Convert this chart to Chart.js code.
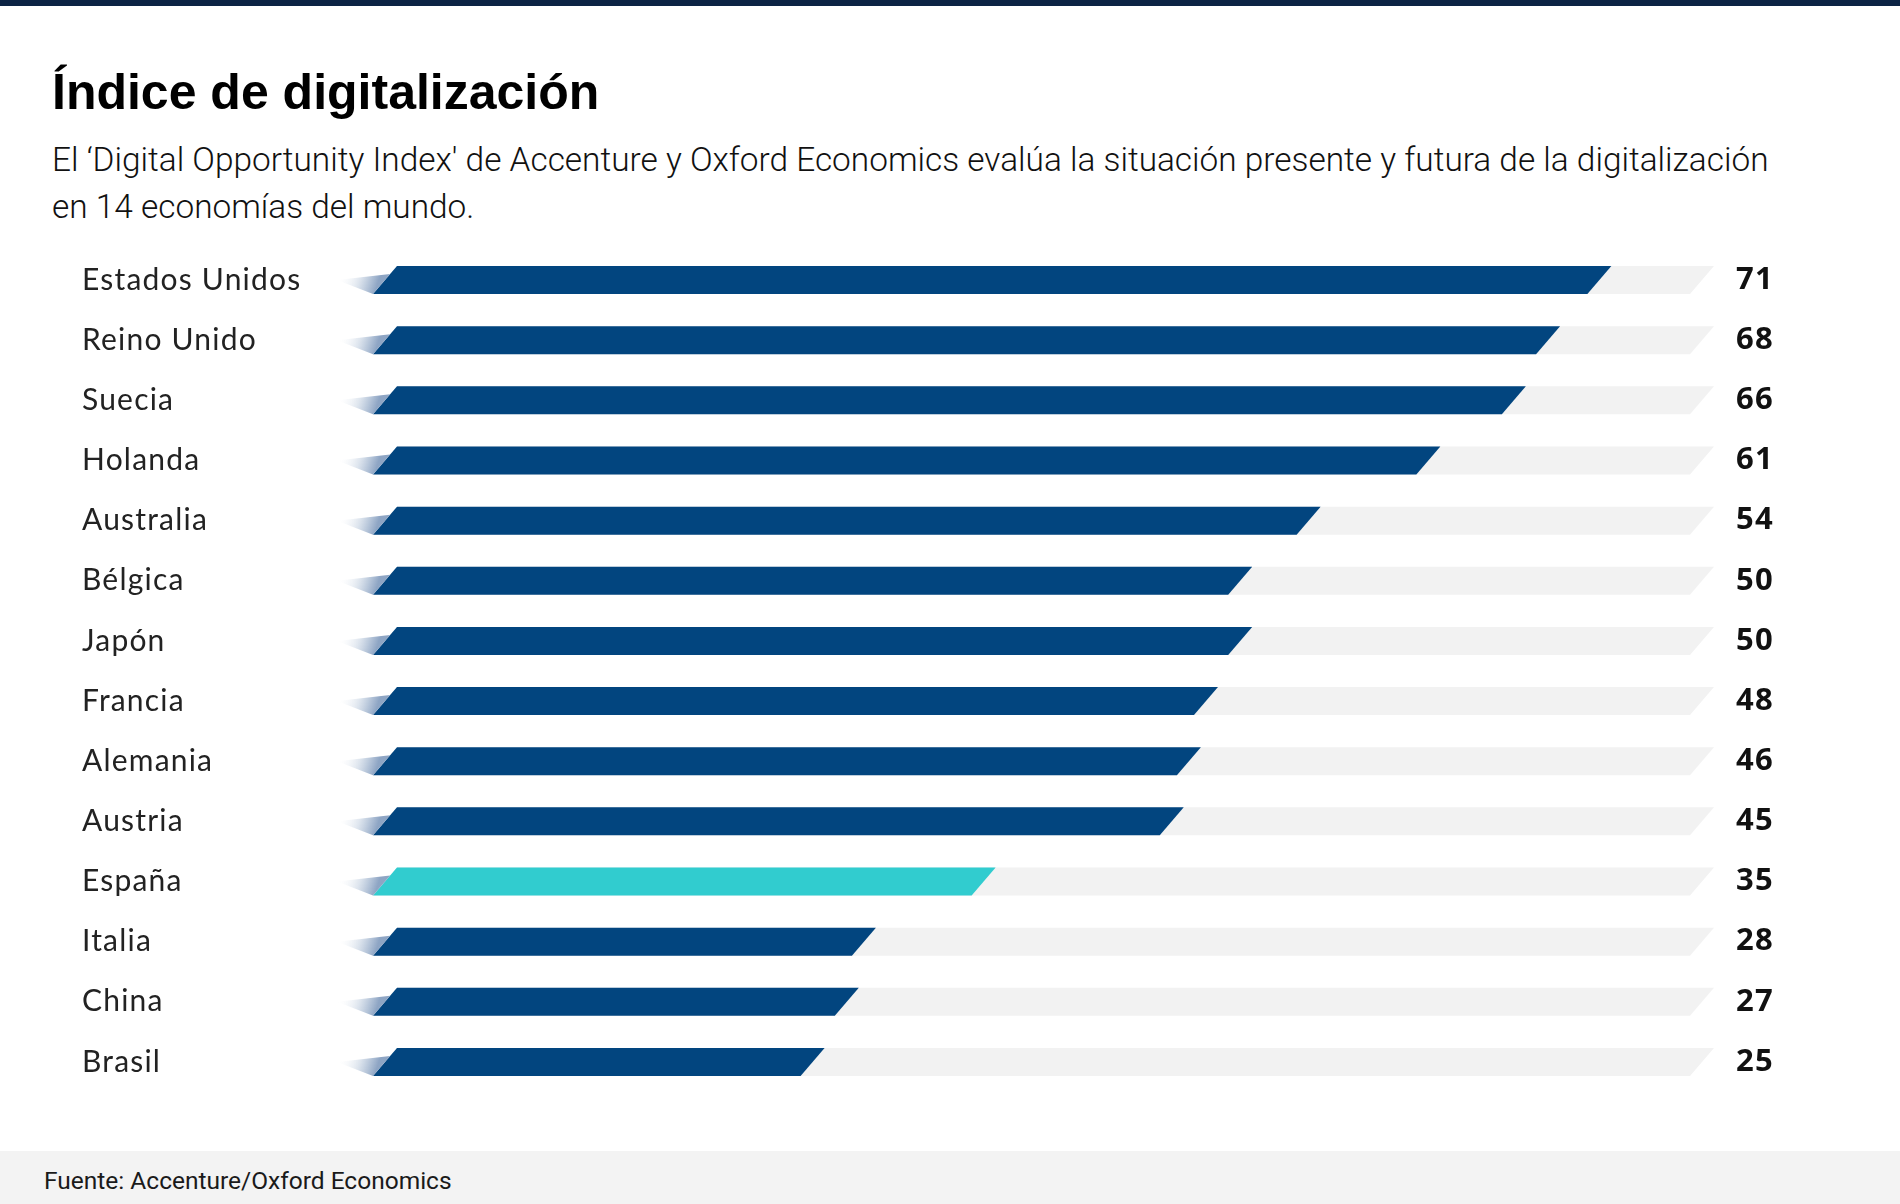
<!DOCTYPE html>
<html lang="es">
<head>
<meta charset="utf-8">
<title>Índice de digitalización</title>
<script src="https://cdn.jsdelivr.net/npm/chart.js@4.4.1/dist/chart.umd.min.js"></script>
<style>
    html, body {
        margin: 0;
        padding: 0;
        background: #ffffff;
    }
    #page {
        position: relative;
        width: 1900px;
        height: 1204px;
        overflow: hidden;
        background: #ffffff;
    }
    #topBar {
        position: absolute;
        left: 0;
        top: 0;
        width: 1900px;
        height: 6px;
        background: #0c2344;
    }
    #title {
        position: absolute;
        left: 52px;
        top: 67px;
        margin: 0;
        font-family: "Liberation Sans", Arial, sans-serif;
        font-weight: 700;
        font-size: 50px;
        line-height: 50px;
        color: #000000;
        white-space: nowrap;
    }
    #subtitle {
        position: absolute;
        left: 52px;
        top: 136px;
        margin: 0;
        font-family: Roboto, sans-serif;
        font-weight: 300;
        font-size: 33.4px;
        line-height: 47px;
        color: #111111;
        white-space: nowrap;
    }
    #chartBox {
        position: absolute;
        left: 0;
        top: 250px;
        width: 1900px;
        height: 842px;
    }
    #footer {
        position: absolute;
        left: 0;
        top: 1151px;
        width: 1900px;
        height: 53px;
        background: #f3f3f3;
    }
    #footer span {
        position: absolute;
        left: 44px;
        top: 3px;
        font-family: Roboto, sans-serif;
        font-size: 24.5px;
        line-height: 53px;
        color: #1a1a1a;
        white-space: nowrap;
    }
</style>
</head>
<body>
<div id="page">
    <div id="topBar"></div>
    <h1 id="title">Índice de digitalización</h1>
    <p id="subtitle">El ‘Digital Opportunity Index' de Accenture y Oxford Economics evalúa la situación presente y futura de la digitalización<br>en 14 economías del mundo.</p>
    <div id="chartBox"><canvas id="digitalChart" width="1900" height="842"></canvas></div>
    <div id="footer"><span>Fuente: Accenture/Oxford Economics</span></div>
</div>

<script>
// datos del gráfico
var countries = ['Estados Unidos', 'Reino Unido', 'Suecia', 'Holanda', 'Australia', 'Bélgica', 'Japón',
    'Francia', 'Alemania', 'Austria', 'España', 'Italia', 'China', 'Brasil'];
// cifras publicadas a la derecha de cada barra
var indexLabels = ['71', '68', '66', '61', '54', '50', '50', '48', '46', '45', '35', '28', '27', '25'];
// largo de las barras tal como aparece en el gráfico original
// (Alemania y Austria están dibujadas un punto más largas que su cifra)
var barValues = [71, 68, 66, 61, 54, 50, 50, 48, 47, 46, 35, 28, 27, 25];
var highlightCountry = 'España';
var trackMax = 77; // hasta donde llega la franja gris de fondo

var barBlue = '#02457f';
var barTeal = '#31cccf';
var trackGray = '#f2f2f2';

// inclinación de los extremos de cada barra (desplazamiento horizontal / alto)
var SLANT = 24 / 28;

function slantedQuad(ctx, x0, x1, top, bottom, shift, color) {
    ctx.beginPath();
    ctx.moveTo(x0, bottom);
    ctx.lineTo(x0 + shift, top);
    ctx.lineTo(x1 + shift, top);
    ctx.lineTo(x1, bottom);
    ctx.closePath();
    ctx.fillStyle = color;
    ctx.fill();
}

// dibuja las barras inclinadas a partir de los elementos que calcula Chart.js
var slantedBars = {
    id: 'slantedBars',
    beforeDraw: function (chart) {
        // un poco de espacio entre letras, como en los nombres del original
        chart.ctx.letterSpacing = '1.2px';
    },
    afterDatasetsDraw: function (chart) {
        var ctx = chart.ctx;
        var xScale = chart.scales.x;
        var meta = chart.getDatasetMeta(0);
        var trackEnd = xScale.getPixelForValue(trackMax);

        ctx.save();
        meta.data.forEach(function (bar, i) {
            var h = bar.height;
            var top = bar.y - h / 2;
            var bottom = bar.y + h / 2;
            var base = bar.base;
            var shift = h * SLANT;

            slantedQuad(ctx, base, trackEnd, top, bottom, shift, trackGray);
            var color = countries[i] === highlightCountry ? barTeal : barBlue;
            slantedQuad(ctx, base, bar.x, top, bottom, shift, color);

            // sombra en forma de cuña a la izquierda
            var tipX = base - 36, tipY = bottom - 14;
            var upY = bottom - 20;
            var upX = base + shift * (20 / h);
            var grad = ctx.createLinearGradient(tipX, tipY, base + 2, bottom - 2);
            grad.addColorStop(0, 'rgba(255,255,255,0)');
            grad.addColorStop(0.55, 'rgba(214,223,234,0.85)');
            grad.addColorStop(1, '#8ea5c4');
            ctx.beginPath();
            ctx.moveTo(tipX, tipY);
            ctx.lineTo(upX, upY);
            ctx.lineTo(base, bottom);
            ctx.closePath();
            ctx.fillStyle = grad;
            ctx.fill();
        });
        ctx.restore();
    }
};

// sin relleno vertical extra en los ejes de categorías
function fixAxis(width) {
    return function (axis) {
        axis.width = width;
        axis.paddingTop = 0;
        axis.paddingBottom = 0;
    };
}

var ctx = document.getElementById('digitalChart').getContext('2d');
var digitalChart = new Chart(ctx, {
    type: 'bar',
    data: {
        labels: countries,
        datasets: [{
            label: 'Digital Opportunity Index',
            data: barValues,
            backgroundColor: 'rgba(0,0,0,0)',
            borderWidth: 0,
            barThickness: 28
        }]
    },
    options: {
        indexAxis: 'y',
        responsive: false,
        animation: false,
        devicePixelRatio: 1,
        layout: {
            padding: { left: 82, right: 0, top: 0, bottom: 0 }
        },
        plugins: {
            legend: { display: false },
            tooltip: { enabled: false }
        },
        scales: {
            x: {
                display: false,
                min: 0,
                max: trackMax
            },
            y: {
                position: 'left',
                grid: { display: false, drawTicks: false },
                border: { display: false },
                ticks: {
                    crossAlign: 'far',
                    padding: 0,
                    color: '#222222',
                    font: { family: 'Lato', size: 30, weight: '400' }
                },
                afterFit: fixAxis(291)
            },
            y2: {
                type: 'category',
                position: 'right',
                labels: indexLabels,
                offset: true,
                grid: { display: false, drawTicks: false },
                border: { display: false },
                ticks: {
                    padding: 46,
                    color: '#111111',
                    font: { family: 'Open Sans', size: 31, weight: '700' }
                },
                afterFit: fixAxis(210)
            }
        }
    },
    plugins: [slantedBars]
});
</script>
</body>
</html>
